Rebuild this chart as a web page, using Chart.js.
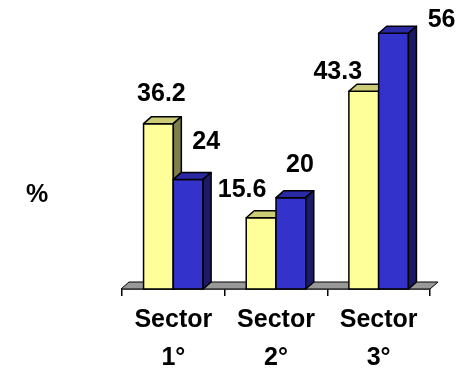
<!DOCTYPE html>
<html>
<head>
<meta charset="utf-8">
<script src="https://cdn.jsdelivr.net/npm/chart.js@4.4.0/dist/chart.umd.min.js"></script>
<style>
  html, body { margin: 0; padding: 0; background: #fff; }
  #wrap { width: 464px; height: 371px; }
</style>
</head>
<body>
<div id="wrap"><canvas id="sectorChart" width="464" height="371"></canvas></div>
<script>
// Data
const sectors = [['Sector', '1°'], ['Sector', '2°'], ['Sector', '3°']];
const seriesA = [36.2, 15.6, 43.3];
const seriesB = [24, 20, 56];
const axisUnit = '%';

// Face colours per series: front, top, side
const faces = [
    { front: '#FFFF99', top: '#CCCC77', side: '#7F7F4C' },
    { front: '#3333CC', top: '#2929A3', side: '#1A1A66' }
];
const DEPTH_X = 8;
const DEPTH_Y = -7;
const LABEL_FONT = 'bold 25px "Liberation Sans", Arial, sans-serif';

// Value label nudges (dx, dy) from the top centre of each bar
const labelNudge = [
    [[3, -30], [-19, -28], [-26, -19]],
    [[18, -37], [9, -33], [48, -13]]
];

function fillPoly(ctx, pts, color) {
    ctx.beginPath();
    ctx.moveTo(pts[0][0], pts[0][1]);
    for (let k = 1; k < pts.length; k++) ctx.lineTo(pts[k][0], pts[k][1]);
    ctx.closePath();
    ctx.fillStyle = color;
    ctx.fill();
    ctx.stroke();
}

// Draws the floor, the boxed bars and the value labels
const bars3d = {
    id: 'bars3d',
    beforeDatasetsDraw(chart) {
        const { ctx, chartArea } = chart;
        const y = chart.scales.y.getPixelForValue(0);
        const l = chartArea.left - 1, r = chartArea.right;
        ctx.save();
        ctx.lineWidth = 1;
        ctx.strokeStyle = '#000';
        fillPoly(ctx, [[l, y], [r, y], [r + DEPTH_X, y + DEPTH_Y], [l + DEPTH_X, y + DEPTH_Y]], '#999999');
        ctx.restore();
    },
    afterDatasetsDraw(chart) {
        const { ctx } = chart;
        const n = chart.data.labels.length;
        ctx.save();
        ctx.lineWidth = 1.5;
        ctx.strokeStyle = '#000';
        ctx.lineJoin = 'round';
        for (let i = 0; i < n; i++) {
            chart.data.datasets.forEach((ds, d) => {
                const bar = chart.getDatasetMeta(d).data[i];
                const l = bar.x - bar.width / 2, r = bar.x + bar.width / 2;
                const t = bar.y, b = bar.base;
                const c = faces[d];
                fillPoly(ctx, [[l, b], [r, b], [r, t], [l, t]], c.front);
                fillPoly(ctx, [[l, t], [r, t], [r + DEPTH_X, t + DEPTH_Y], [l + DEPTH_X, t + DEPTH_Y]], c.top);
                fillPoly(ctx, [[r, b], [r + DEPTH_X, b + DEPTH_Y], [r + DEPTH_X, t + DEPTH_Y], [r, t]], c.side);
            });
        }

        ctx.font = LABEL_FONT;
        ctx.fillStyle = '#000';
        ctx.textAlign = 'center';
        ctx.textBaseline = 'middle';
        chart.data.datasets.forEach((ds, d) => {
            chart.getDatasetMeta(d).data.forEach((bar, i) => {
                const [dx, dy] = labelNudge[d][i];
                ctx.fillText(String(ds.data[i]), bar.x + dx, bar.y + dy);
            });
        });
        ctx.restore();
    },
    afterDraw(chart) {
        const { ctx } = chart;
        ctx.save();
        ctx.font = LABEL_FONT;
        ctx.fillStyle = '#000';
        ctx.textAlign = 'center';
        ctx.textBaseline = 'middle';
        ctx.fillText(axisUnit, 37, 195);
        ctx.restore();
    }
};

const ctx = document.getElementById('sectorChart').getContext('2d');
const sectorChart = new Chart(ctx, {
    type: 'bar',
    data: {
        labels: sectors,
        datasets: [
            { label: 'A', data: seriesA, backgroundColor: faces[0].front },
            { label: 'B', data: seriesB, backgroundColor: faces[1].front }
        ]
    },
    options: {
        responsive: false,
        animation: false,
        layout: { padding: { left: 122, right: 34, top: 15 } },
        datasets: { bar: { categoryPercentage: 0.58, barPercentage: 1 } },
        plugins: {
            legend: { display: false },
            tooltip: { enabled: false }
        },
        scales: {
            x: {
                grid: {
                    display: true,
                    drawOnChartArea: false,
                    drawTicks: true,
                    tickLength: 7,
                    color: '#000',
                    lineWidth: 1.5,
                    offset: true
                },
                border: { display: true, color: '#000', width: 1.5 },
                ticks: {
                    color: '#000',
                    font: { family: '"Liberation Sans", Arial, sans-serif', size: 25, weight: 'bold', lineHeight: 1.52 },
                    padding: 5,
                    maxRotation: 0,
                    autoSkip: false
                },
                afterFit(scale) {
                    scale.height = 82;
                }
            },
            y: { display: false, min: 0, max: 60 }
        }
    },
    plugins: [bars3d]
});
</script>
</body>
</html>
